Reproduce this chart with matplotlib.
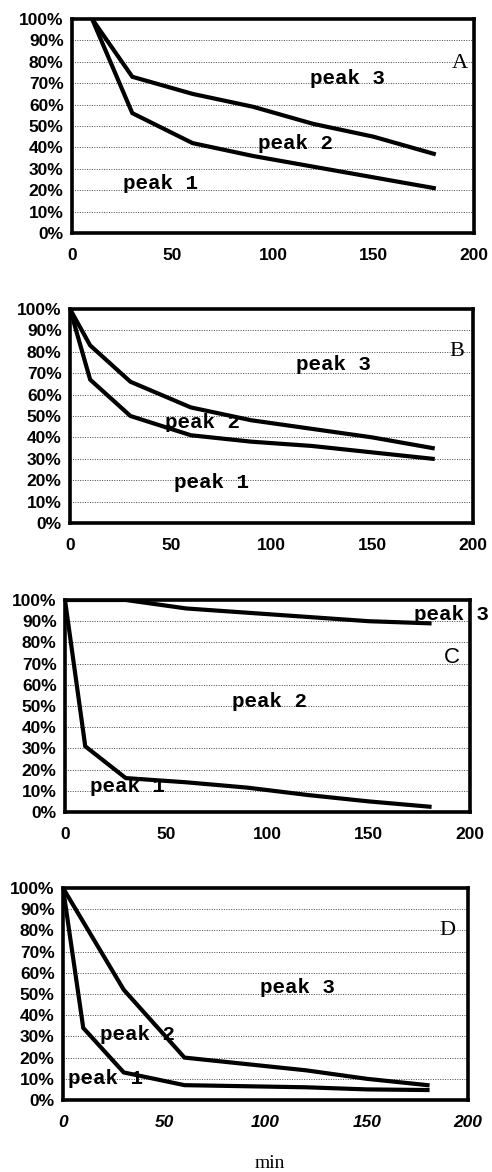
import matplotlib
matplotlib.use("Agg")
import matplotlib.pyplot as plt
from matplotlib.ticker import FuncFormatter

# ---- data ----
t_A = [10, 30, 60, 90, 120, 150, 180]
peak1_A = [100, 56, 42, 36, 31, 26, 21]
peak12_A = [100, 73, 65, 59, 51, 45, 37]

t_B = [0, 10, 30, 60, 90, 120, 150, 180]
peak1_B = [100, 67, 50, 41, 38, 36, 33, 30]
peak12_B = [100, 83, 66, 54, 48, 44, 40, 35]

t_C = [0, 10, 30, 60, 90, 120, 150, 180]
peak1_C = [100, 31, 16, 14, 11.5, 8, 5, 2.5]
peak12_C = [100, 100, 100, 96, 94, 92, 90, 89]

t_D = [0, 10, 30, 60, 90, 120, 150, 180]
peak1_D = [100, 34, 13, 7, 6.5, 6, 5, 4.7]
peak12_D = [100, 84, 52, 20, 17, 14, 10, 7]

panel_letters = ["A", "B", "C", "D"]
peak_names = ["peak 1", "peak 2", "peak 3"]
x_ticks = [0, 50, 100, 150, 200]
y_ticks = [0, 10, 20, 30, 40, 50, 60, 70, 80, 90, 100]
x_label = "min"

# label placements (data coords) per panel: peak1, peak2, peak3, letter
label_pos = {
    "A": [(44, 23), (111, 42), (137, 72), (193, 79)],
    "B": [(70, 19), (66, 47), (131, 74), (192, 80)],
    "C": [(31, 12), (101, 52), (191, 93), (191, 73)],
    "D": [(21, 10), (37, 31), (116, 53), (190, 80)],
}

series = [
    (t_A, peak1_A, peak12_A),
    (t_B, peak1_B, peak12_B),
    (t_C, peak1_C, peak12_C),
    (t_D, peak1_D, peak12_D),
]

W, H = 492, 1172
fig = plt.figure(figsize=(W / 100, H / 100), dpi=100)

# axes boxes in pixels: left, right, top, bottom
boxes = [(72, 474, 19, 233), (70, 473, 309, 523), (65, 470, 600, 812), (63, 468, 888, 1100)]

sans = "Liberation Sans"
mono = "Liberation Mono"
serif = "Liberation Serif"

for i, ((l, r, t, b), (tt, p1, p12)) in enumerate(zip(boxes, series)):
    ax = fig.add_axes([l / W, 1 - b / H, (r - l) / W, (b - t) / H])
    ax.set_xlim(0, 200)
    ax.set_ylim(0, 100)
    for y in y_ticks[1:-1]:
        ax.axhline(y, color="#444444", lw=0.7, ls=(0, (1.0, 1.5)), zorder=1)
    letter = panel_letters[i]
    pos = label_pos[letter]
    for (x, y), name in zip(pos[:3], peak_names):
        ax.text(x, y, name, fontfamily=mono, fontweight="bold", fontsize=15,
                ha="center", va="center", zorder=2, clip_on=False)
    lfam = sans if letter == "C" else serif
    ax.text(pos[3][0], pos[3][1], letter, fontfamily=lfam, fontsize=16,
            ha="center", va="center", zorder=2)
    ax.plot(tt, p1, color="black", lw=3.0, zorder=3, solid_joinstyle="miter")
    ax.plot(tt, p12, color="black", lw=3.0, zorder=3, solid_joinstyle="miter")
    for s in ax.spines.values():
        s.set_linewidth(2.6)
    ax.set_xticks(x_ticks)
    ax.set_yticks(y_ticks)
    ax.yaxis.set_major_formatter(FuncFormatter(lambda v, p: f"{int(v)}%"))
    ax.tick_params(length=0)
    ax.tick_params(axis="x", pad=11)
    ax.tick_params(axis="y", pad=6)
    for lab in ax.get_xticklabels():
        lab.set_fontfamily(sans)
        lab.set_fontweight("bold")
        lab.set_fontsize(12.5)
        if letter == "D":
            lab.set_fontstyle("italic")
    for lab in ax.get_yticklabels():
        lab.set_fontfamily(sans)
        lab.set_fontweight("bold")
        lab.set_fontsize(12.5)

fig.text(270 / W, 1 - 1163 / H, x_label, fontfamily=serif, fontsize=14,
         ha="center", va="center")

fig.savefig("out.png", dpi=100)
